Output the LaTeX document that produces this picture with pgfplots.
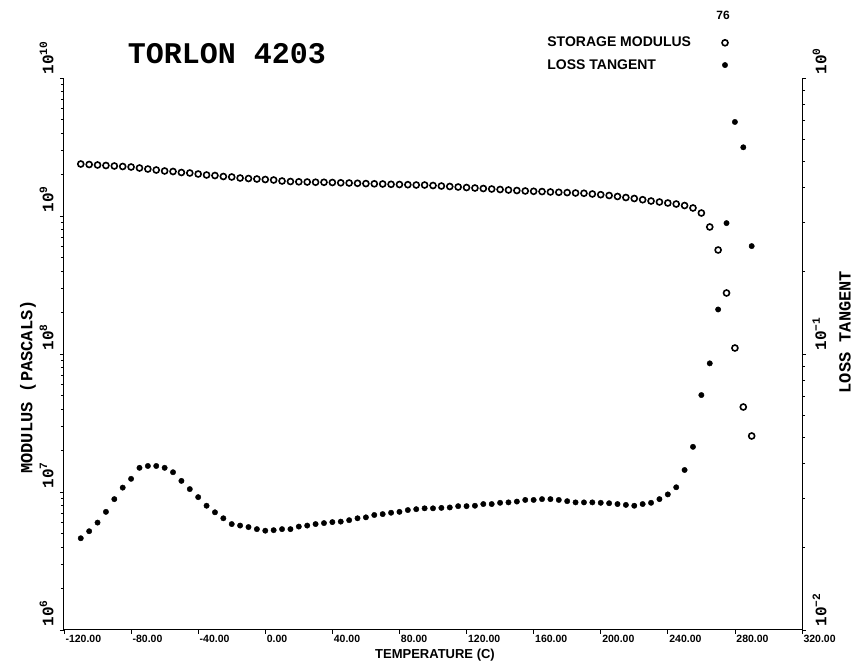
\documentclass[border=0pt]{standalone}
\usepackage{fontspec}
\setmainfont{Liberation Sans}
\setmonofont{Liberation Mono}
\usepackage{pgfplots}
\pgfplotsset{compat=1.18}
\begin{document}
\begin{tikzpicture}[x=1pt,y=1pt]
\path[use as bounding box] (-64,-37) rectangle (795,630);
\begin{axis}[
  at={(0pt,0pt)}, anchor=south west,
  scale only axis, width=738pt, height=552pt,
  xmin=-120, xmax=320,
  ymode=log, ymin=1e6, ymax=1e10,
  axis x line*=bottom, axis y line*=left,
  axis line style={-, line width=1pt},
  tick align=outside,
  major tick length=4pt, minor tick length=3pt,
  every tick/.style={black, line width=0.8pt},
  xtick={-120,-80,-40,0,40,80,120,160,200,240,280,320},
  xticklabels={-120.00,-80.00,-40.00,0.00,40.00,80.00,120.00,160.00,200.00,240.00,280.00,320.00},
  xticklabel style={font=\fontsize{10.5}{11}\selectfont\bfseries, anchor=north west, xshift=-2pt, yshift=2pt},
  ytick={1e6,1e7,1e8,1e9,1e10},
  yticklabels={10\textsuperscript{6},10\textsuperscript{7},10\textsuperscript{8},10\textsuperscript{9},10\textsuperscript{10}},
  yticklabel style={font=\ttfamily\bfseries\fontsize{16}{18}\selectfont, xshift=-3pt, rotate=90, anchor=south west},
  minor ytick={2e6,3e6,4e6,5e6,6e6,7e6,8e6,9e6,2e7,3e7,4e7,5e7,6e7,7e7,8e7,9e7,2e8,3e8,4e8,5e8,6e8,7e8,8e8,9e8,2e9,3e9,4e9,5e9,6e9,7e9,8e9,9e9},
]
\addplot[only marks, mark=o, mark size=3pt, mark options={line width=1.6pt, black}] table {
T E
-110 2.381e9
-105 2.361e9
-100 2.342e9
-95 2.322e9
-90 2.303e9
-85 2.284e9
-80 2.265e9
-75 2.227e9
-70 2.190e9
-65 2.154e9
-60 2.119e9
-55 2.101e9
-50 2.066e9
-45 2.049e9
-40 2.015e9
-35 1.982e9
-30 1.965e9
-25 1.933e9
-20 1.917e9
-15 1.885e9
-10 1.869e9
-5 1.854e9
0 1.838e9
5 1.823e9
10 1.793e9
15 1.778e9
20 1.769e9
25 1.763e9
30 1.757e9
35 1.755e9
40 1.749e9
45 1.740e9
50 1.734e9
55 1.726e9
60 1.717e9
65 1.711e9
70 1.706e9
75 1.697e9
80 1.691e9
85 1.686e9
90 1.677e9
95 1.677e9
100 1.663e9
105 1.649e9
110 1.636e9
115 1.622e9
120 1.608e9
125 1.595e9
130 1.582e9
135 1.569e9
140 1.556e9
145 1.543e9
150 1.530e9
155 1.518e9
160 1.510e9
165 1.503e9
170 1.493e9
175 1.485e9
180 1.478e9
185 1.468e9
190 1.461e9
195 1.444e9
200 1.427e9
205 1.408e9
210 1.385e9
215 1.361e9
220 1.339e9
225 1.312e9
230 1.284e9
235 1.263e9
240 1.242e9
245 1.221e9
250 1.191e9
255 1.143e9
260 1.051e9
265 8.325e8
270 5.670e8
275 2.767e8
280 1.105e8
285 4.129e7
290 2.546e7
};
\end{axis}
\begin{axis}[
  at={(0pt,0pt)}, anchor=south west,
  scale only axis, width=738pt, height=552pt,
  xmin=-120, xmax=320,
  ymode=log, ymin=1e-2, ymax=1,
  axis y line*=right, axis x line=none,
  axis line style={-, line width=1pt},
  tick align=outside,
  major tick length=4pt, minor tick length=3pt,
  every tick/.style={black, line width=0.8pt},
  ytick={1e-2,1e-1,1},
  yticklabels={10\textsuperscript{−2},10\textsuperscript{−1},10\textsuperscript{0}},
  yticklabel style={font=\ttfamily\bfseries\fontsize{16}{18}\selectfont, xshift=3pt, rotate=90, anchor=north west},
  minor ytick={0.02,0.03,0.04,0.05,0.06,0.07,0.08,0.09,0.2,0.3,0.4,0.5,0.6,0.7,0.8,0.9},
  legend style={draw=none, fill=none, at={(0.652,1.078)}, anchor=north west,
    font=\fontsize{14}{15}\selectfont\bfseries, row sep=7pt, column sep=29pt, inner sep=0pt},
  legend cell align=left, legend plot pos=right,
]
\addlegendimage{only marks, mark=o, mark size=3pt, mark options={line width=1.6pt, black}}
\addlegendentry{STORAGE MODULUS}
\addplot[only marks, mark=*, mark size=2.7pt, black] table {
T tand
-110 0.0215
-105 0.0228
-100 0.0245
-95 0.0268
-90 0.0298
-85 0.0328
-80 0.0353
-75 0.0387
-70 0.0393
-65 0.0393
-60 0.0387
-55 0.0373
-50 0.0347
-45 0.0324
-40 0.0303
-35 0.0282
-30 0.0267
-25 0.0254
-20 0.0242
-15 0.0239
-10 0.0236
-5 0.0232
0 0.0229
5 0.0230
10 0.0232
15 0.0232
20 0.0237
25 0.0239
30 0.0242
35 0.0244
40 0.0246
45 0.0247
50 0.0250
55 0.0254
60 0.0256
65 0.0261
70 0.0263
75 0.0266
80 0.0268
85 0.0272
90 0.0274
95 0.0276
100 0.0276
105 0.0277
110 0.0278
115 0.0281
120 0.0281
125 0.0282
130 0.0286
135 0.0286
140 0.0289
145 0.0290
150 0.0292
155 0.0296
160 0.0296
165 0.0298
170 0.0298
175 0.0296
180 0.0293
185 0.0290
190 0.0290
195 0.0290
200 0.0289
205 0.0288
210 0.0286
215 0.0284
220 0.0282
225 0.0286
230 0.0289
235 0.0298
240 0.0310
245 0.0329
250 0.0380
255 0.0461
260 0.0710
265 0.0925
270 0.145
275 0.298
280 0.693
285 0.561
290 0.246
};
\addlegendentry{LOSS TANGENT}
\end{axis}
\node[font=\ttfamily\bfseries\fontsize{30}{32}\selectfont] at (163,576) {TORLON 4203};
\node[font=\fontsize{12}{13}\selectfont\bfseries] at (659,615) {76};
\node[font=\fontsize{13}{14}\selectfont\bfseries] at (371,-25) {TEMPERATURE (C)};
\node[font=\ttfamily\bfseries\fontsize{17}{19}\selectfont, rotate=90] at (-36,243) {MODULUS (PASCALS)};
\node[font=\ttfamily\bfseries\fontsize{17}{19}\selectfont, rotate=90] at (781,298) {LOSS TANGENT};
\end{tikzpicture}
\end{document}
